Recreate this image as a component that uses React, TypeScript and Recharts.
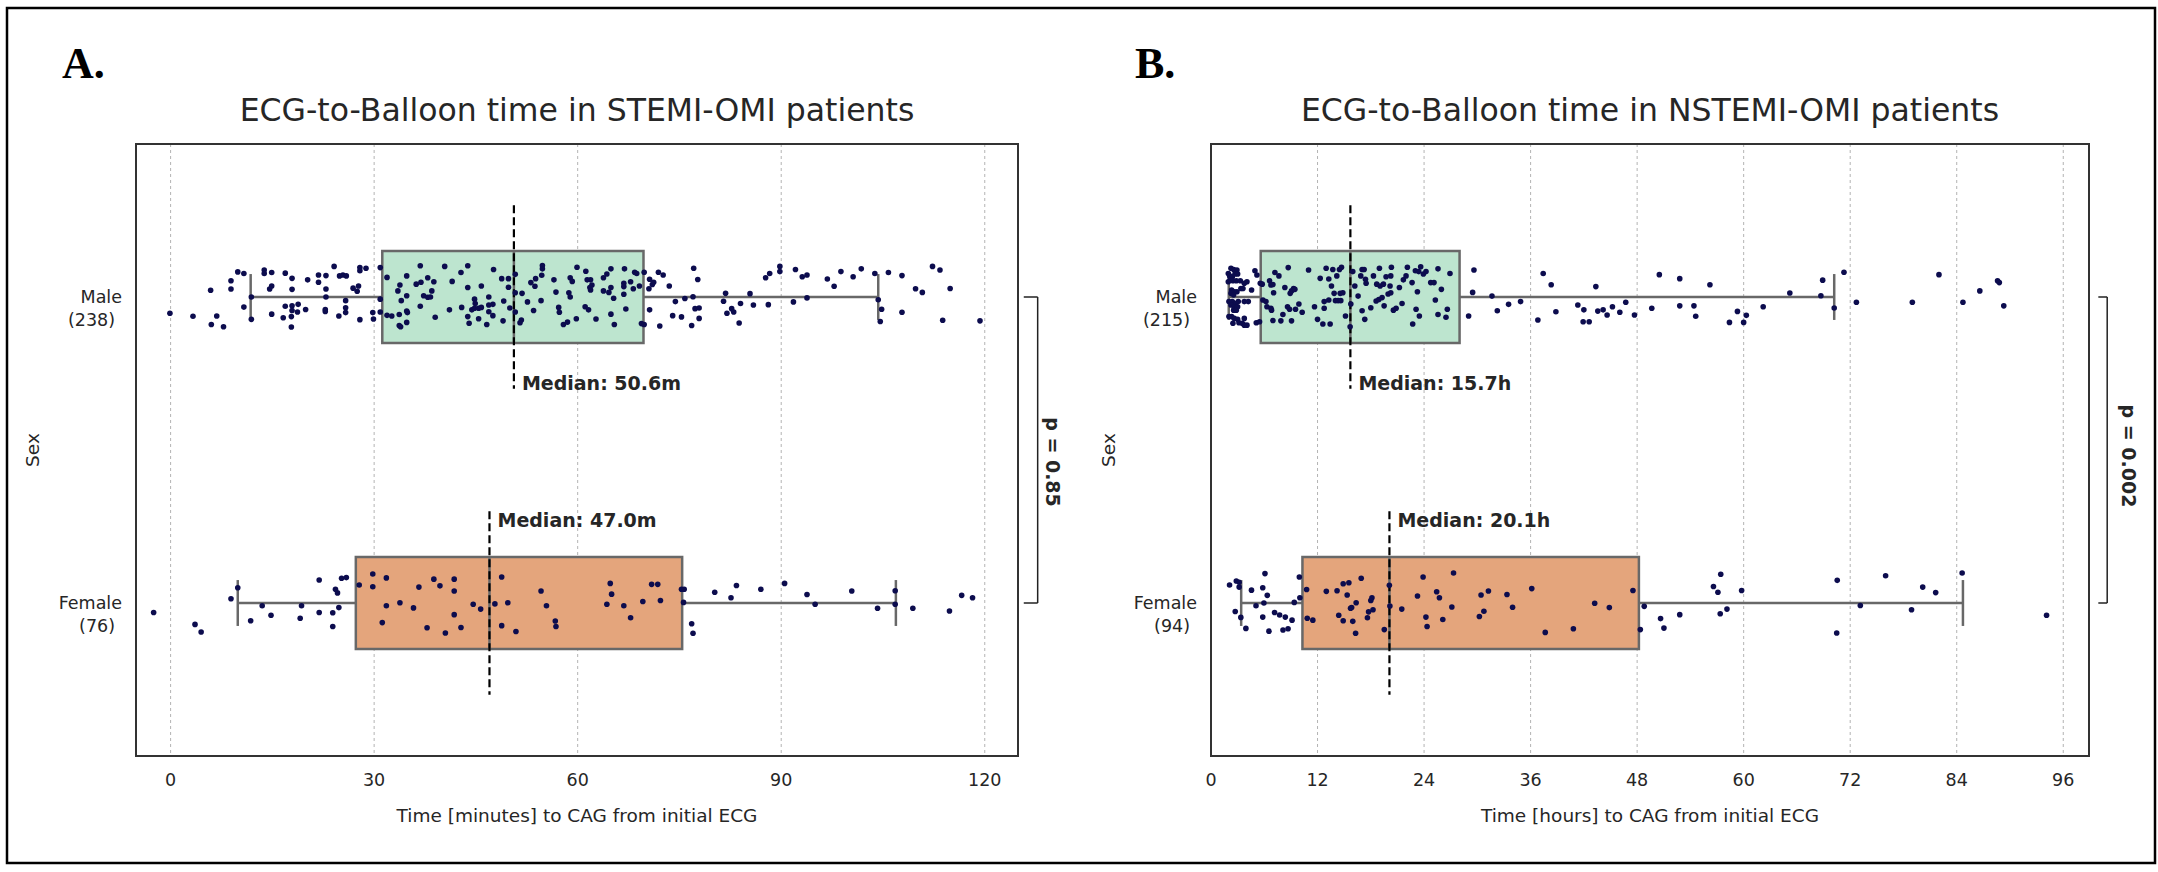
import React from 'react';
import { ScatterChart, Scatter, XAxis, YAxis, CartesianGrid, ReferenceArea, ReferenceLine } from 'recharts';

type Pt = [number, number]; // [time, vertical jitter]

const sexLabels = ['Male', 'Female'];
const stemiCounts = ['(238)', '(76)'];
const nstemiCounts = ['(215)', '(94)'];

const stemiTicks = [0, 30, 60, 90, 120];
const nstemiTicks = [0, 12, 24, 36, 48, 60, 72, 84, 96];

// [lower whisker, q1, median, q3, upper whisker]
const stemiMaleBox = [11.8, 31.2, 50.6, 69.7, 104.3];
const stemiFemaleBox = [9.9, 27.3, 47.0, 75.4, 106.9];
const nstemiMaleBox = [2.0, 5.6, 15.7, 28.0, 70.2];
const nstemiFemaleBox = [3.4, 10.3, 20.1, 48.2, 84.7];

const stemiMedianText = ['Median: 50.6m', 'Median: 47.0m'];
const nstemiMedianText = ['Median: 15.7h', 'Median: 20.1h'];

const stemiP = 'p = 0.85';
const nstemiP = 'p = 0.002';

const stemiMale: Pt[] = [
  [-0.1, 0.053], [3.3, 0.063], [5.9, -0.022], [6.0, 0.09], [6.8, 0.062], [7.8, 0.097], [8.9, -0.053], [8.9, -0.026],
  [9.9, -0.082], [10.8, -0.077], [10.8, 0.033], [11.9, 0], [11.9, 0.073], [13.8, -0.088], [13.8, -0.077], [14.9, -0.08],
  [14.6, -0.026], [14.9, -0.036], [14.9, 0.056], [16.9, -0.078], [17.9, -0.061], [17.9, -0.025], [16.9, 0.03], [17.9, 0.029],
  [18.8, 0.024], [17.9, 0.044], [18.7, 0.049], [19.9, 0.041], [16.6, 0.068], [17.8, 0.064], [17.8, 0.098], [20.2, -0.056],
  [21.8, -0.072], [22.9, -0.07], [21.8, -0.048], [22.9, -0.026], [22.9, 0], [22.8, 0.041], [22.8, 0.047], [24.1, -0.1],
  [24.9, -0.069], [25.4, -0.072], [25.9, -0.069], [25.8, 0.012], [25.8, 0.035], [25.8, 0.051], [24.8, 0.062], [26.9, -0.029],
  [27.7, -0.036], [27.5, -0.019], [27.9, -0.096], [27.9, -0.086], [28.8, -0.094], [27.9, 0.074], [29.8, 0.051], [29.9, 0.072],
  [30.9, -0.096], [30.9, 0.007], [30.9, 0.049], [31.9, -0.064], [31.9, 0.06], [32.6, 0.062], [33.8, -0.039], [33.5, -0.02],
  [34.8, -0.069], [34.8, -0.004], [34.0, 0.012], [34.8, 0.046], [34.9, 0.051], [33.7, 0.057], [34.8, 0.083], [33.7, 0.093],
  [33.9, 0.097], [36.8, -0.102], [36.2, -0.042], [36.9, -0.048], [37.9, -0.063], [38.8, -0.05], [37.3, -0.004], [37.9, 0.001],
  [38.3, 0], [38.5, -0.02], [36.8, 0.03], [39.0, 0.066], [40.4, -0.1], [41.5, -0.051], [41.1, 0.042], [42.8, -0.08],
  [43.8, -0.102], [43.8, -0.031], [42.9, 0.034], [43.8, 0.064], [44.0, 0.086], [45.8, -0.036], [44.8, 0.007], [44.9, 0.021],
  [44.4, 0.042], [44.8, 0.037], [45.4, 0.037], [45.8, 0.034], [45.4, 0.071], [46.9, 0], [46.9, 0.026], [46.9, 0.048],
  [46.6, 0.09], [47.5, 0.024], [47.5, 0.061], [47.6, -0.09], [48.8, -0.06], [49.1, 0.013], [49.0, 0.078], [49.8, -0.06],
  [49.8, -0.032], [50.0, 0.036], [50.8, -0.074], [50.8, -0.014], [50.8, 0.049], [51.8, -0.012], [51.7, 0.075], [51.5, 0.084],
  [53.1, -0.047], [53.8, -0.06], [53.7, -0.035], [54.6, 0.012], [54.8, -0.103], [54.8, -0.092], [54.7, -0.071], [52.6, 0.016],
  [53.5, 0.044], [56.5, -0.056], [56.8, -0.016], [57.2, 0.034], [57.3, 0.05], [58.9, -0.063], [59.2, -0.051], [58.7, -0.014],
  [58.9, 0], [57.9, 0.09], [58.5, 0.082], [59.9, -0.097], [59.8, 0.071],
  [61.2, -0.084], [61.9, -0.056], [61.4, -0.056], [62.1, -0.039], [61.8, -0.031], [61.9, -0.023], [61.1, 0.032], [61.6, 0.042],
  [62.7, 0.072], [63.8, -0.063], [64.3, -0.075], [64.9, -0.092], [63.8, -0.02], [64.6, -0.015], [64.9, -0.031], [65.3, 0.004],
  [64.9, 0.056], [65.4, 0.09], [66.9, -0.092], [66.8, -0.045], [66.8, -0.034], [66.8, -0.009], [67.8, -0.05], [68.2, -0.027],
  [67.1, 0.039], [68.4, -0.081], [68.7, -0.077], [69.1, -0.036], [69.4, 0.087], [69.8, 0.09], [69.8, -0.081], [70.6, -0.058],
  [70.5, -0.027], [71.0, -0.041], [71.2, -0.048], [71.9, -0.081], [72.6, -0.072], [70.6, 0.042], [72.1, 0.095], [73.5, -0.036],
  [74.4, 0.015], [74.0, 0.061], [75.3, 0.065], [75.8, 0.005], [77.1, -0.094], [77.7, -0.057], [77.0, -0.001], [77.3, 0.038],
  [77.9, 0.036], [77.9, 0.07], [76.8, 0.093], [81.8, -0.012], [81.5, 0.014], [82.0, 0.053], [82.7, 0.038], [83.0, 0.049],
  [83.8, 0.085], [84.0, 0.021], [85.4, -0.011], [85.9, 0.026], [87.7, -0.063], [88.3, -0.077], [88.1, 0.025], [89.8, -0.1],
  [89.8, -0.083], [91.8, 0.016], [92.1, -0.09], [93.1, -0.066], [93.8, -0.072], [93.8, 0.003], [96.8, -0.059], [97.8, -0.035],
  [98.8, -0.083], [100.6, -0.066], [101.8, -0.092], [103.8, -0.077], [104.3, 0.009], [104.8, 0.04], [104.6, 0.08], [105.8, -0.08],
  [107.8, -0.07], [107.8, 0.05], [109.8, -0.027], [110.8, -0.015], [112.3, -0.1], [113.4, -0.088], [114.9, -0.028], [113.8, 0.076],
  [119.3, 0.078],
];

const stemiFemale: Pt[] = [
  [-2.5, 0.031], [3.6, 0.07], [4.5, 0.095], [8.9, -0.014], [9.9, -0.05], [11.8, 0.058], [13.5, 0.009], [14.8, 0.04],
  [19.1, 0.05], [19.3, 0.009], [21.9, -0.075], [21.9, 0.031], [23.9, 0.032], [23.9, 0.077], [24.3, -0.045], [24.6, -0.033],
  [24.8, 0.015], [25.2, -0.081], [25.9, -0.083], [27.8, -0.059], [29.8, -0.095], [29.8, -0.053], [31.2, 0.064], [31.8, -0.082],
  [31.8, 0.009], [33.8, -0.001], [35.8, 0.016], [36.6, -0.052], [37.8, 0.081], [38.8, -0.078], [39.7, -0.056], [40.5, 0.098],
  [41.8, -0.078], [41.8, -0.039], [41.8, 0.038], [42.8, 0.08], [44.6, 0.004], [45.7, 0.02], [47.8, 0.003], [48.8, -0.085],
  [49.7, -0.001], [48.8, 0.074], [50.9, 0.093], [54.6, -0.039], [55.4, 0.009], [56.7, 0.059], [56.8, 0.077], [64.3, 0.004],
  [64.8, -0.064], [65.0, -0.029], [66.8, 0.009], [67.8, 0.048], [69.6, -0.005], [70.9, -0.061], [71.8, -0.061], [72.2, -0.008],
  [75.3, -0.045], [75.7, -0.045], [75.6, -0.002], [76.8, 0.068], [77.0, 0.099], [80.2, -0.035], [82.6, -0.017], [83.4, -0.057],
  [87.0, -0.045], [90.5, -0.064], [93.8, -0.028], [95.0, 0.004], [100.4, -0.039], [104.2, 0.017], [106.8, -0.04], [106.8, 0.004],
  [109.4, 0.017], [114.8, 0.026], [116.6, -0.025], [118.2, -0.017],
];

const nstemiMale: Pt[] = [
  [1.95, -0.077], [2.25, -0.094], [2.55, -0.09], [2.92, -0.088], [2.1, -0.069], [2.4, -0.066], [2.7, -0.075], [3.0, -0.075],
  [1.95, -0.05], [2.17, -0.056], [2.47, -0.053], [2.85, -0.053], [3.3, -0.053], [3.75, -0.045], [4.05, -0.05], [4.95, -0.086],
  [4.57, -0.023], [2.32, -0.023], [2.62, -0.017], [2.92, -0.017], [2.25, -0.012], [2.55, -0.007], [3.37, -0.028], [3.6, -0.028],
  [2.02, 0.015], [2.4, 0.015], [2.77, 0.021], [3.07, 0.015], [3.75, 0.015], [4.2, 0.015], [2.25, 0.026], [2.62, 0.032],
  [3.0, 0.032], [2.55, 0.043], [2.85, 0.043], [2.02, 0.064], [2.32, 0.064], [2.62, 0.07], [3.0, 0.073], [3.75, 0.07],
  [2.47, 0.086], [3.15, 0.084], [3.52, 0.086], [3.75, 0.092], [4.05, 0.092], [5.1, 0.084], [5.47, 0.081], [5.55, -0.045],
  [5.77, -0.042], [5.85, 0.01], [5.17, -0.072],
  [6.19, 0.015], [6.3, 0.032], [6.75, 0.037], [6.82, 0.043], [6.6, -0.053], [6.75, -0.039], [6.97, -0.041], [7.05, -0.014],
  [7.2, -0.08], [7.65, -0.069], [6.97, 0.077], [7.87, 0.078], [8.1, 0.057], [8.32, -0.031], [8.7, -0.096], [8.62, 0.032],
  [8.85, 0.04], [8.92, -0.012], [9.07, -0.02], [9.3, -0.028], [9.45, -0.025], [9.07, 0.078], [9.52, 0.04], [9.9, 0.023],
  [10.27, 0.05], [10.99, -0.088], [11.66, 0.032], [12.0, 0.073], [12.3, -0.061], [12.6, 0.088], [12.75, 0.037], [12.75, 0.015],
  [12.97, -0.094], [13.27, 0.01], [13.27, -0.059], [13.42, 0.088], [13.57, -0.036], [13.72, -0.09], [13.87, -0.012], [14.02, 0.012],
  [14.17, -0.069], [14.32, 0.012], [14.47, -0.09], [14.55, -0.012], [14.62, 0.012], [14.7, -0.097], [14.85, -0.014], [15.15, 0.062],
  [15.67, 0.097], [15.75, 0.023], [15.97, -0.083], [16.2, -0.036], [16.57, -0.003], [16.87, -0.069], [17.02, -0.09], [17.25, -0.09],
  [17.02, 0.045], [17.32, 0.073], [17.4, -0.058], [17.47, -0.045], [18.0, 0.035], [18.3, -0.069], [18.6, 0.013], [18.67, -0.042],
  [18.9, 0.008], [18.97, -0.094], [19.05, -0.036], [19.27, 0.002], [19.42, -0.042], [19.5, 0.029], [19.72, -0.066], [19.95, -0.01],
  [20.17, -0.036], [20.25, -0.069], [20.32, -0.097], [20.25, -0.014], [20.55, 0.043], [20.85, 0.037], [21.22, -0.031], [21.52, 0.021],
  [21.67, -0.056], [21.97, -0.069], [22.12, -0.097], [22.65, -0.047], [22.72, 0.088], [23.02, -0.086], [23.25, -0.017], [23.1, 0.04],
  [23.4, -0.083], [23.47, 0.062], [23.62, -0.099], [23.92, -0.075], [24.22, -0.083], [24.75, -0.047], [25.12, -0.047], [25.27, 0.01],
  [25.57, -0.092], [25.57, 0.057], [25.95, -0.025], [26.47, 0.066], [26.62, 0.04], [26.92, -0.077],
  [29.02, 0.062], [29.47, -0.015], [29.62, -0.088], [31.65, -0.003], [32.25, 0.045], [33.52, 0.024], [34.87, 0.015], [36.82, 0.075],
  [37.42, -0.077], [38.32, -0.04], [38.85, 0.048], [41.32, 0.026], [42.0, 0.042], [41.92, 0.081], [42.6, 0.081], [43.35, -0.034],
  [43.57, 0.046], [44.17, 0.042], [44.62, 0.059], [45.22, 0.032], [46.05, 0.05], [46.72, 0.017], [47.7, 0.059], [49.65, 0.037],
  [50.5, -0.073], [52.8, -0.06], [52.8, 0.029], [54.4, 0.029], [54.6, 0.063], [56.2, -0.04], [58.4, 0.083], [59.3, 0.047],
  [60.0, 0.083], [60.3, 0.06], [62.2, 0.032], [65.2, -0.013], [68.7, -0.004], [68.9, -0.055], [70.2, 0.036], [71.3, -0.081],
  [72.7, 0.017], [79.0, 0.017], [82.0, -0.073], [84.7, 0.017], [86.6, -0.02], [88.6, -0.053], [88.8, -0.047], [89.3, 0.029],
];

const nstemiFemale: Pt[] = [
  [2.09, -0.059], [2.85, -0.072], [3.17, -0.068], [3.17, -0.052], [2.73, 0.028], [3.36, 0.047], [3.93, 0.083], [4.56, -0.042],
  [5.07, 0.009], [5.83, -0.05], [6.08, -0.096], [6.34, -0.025], [5.96, 0], [5.83, 0.046], [6.53, 0.092], [7.16, 0.031],
  [7.73, 0.039], [8.37, 0.046], [9.13, 0.056], [8.11, 0.088], [8.68, 0.084], [9.38, -0.002], [9.95, -0.085], [10.01, -0.017],
  [10.77, -0.044], [10.84, 0.05], [11.47, 0.056], [12.99, -0.038], [14.2, -0.04], [14.89, -0.063], [15.53, -0.066], [15.34, -0.026],
  [16.92, -0.081], [15.84, 0.015], [15.72, 0.017], [16.35, -0.001], [14.39, 0.04], [14.89, 0.058], [15.97, 0.06], [16.29, 0.099],
  [17.75, 0.029], [17.62, 0.048], [18.13, -0.017], [18.0, -0.008], [18.25, 0.022], [19.52, 0.087], [20.09, -0.058], [20.15, 0.01],
  [21.49, 0.02], [23.26, -0.023], [23.89, -0.085], [24.21, 0.046], [24.34, 0.077], [25.42, -0.037], [25.73, -0.017], [26.11, 0.054],
  [27.13, 0.013], [27.32, -0.098], [30.42, -0.026], [31.25, -0.039], [30.74, 0.027], [30.23, 0.044], [33.34, -0.028], [33.97, 0.014],
  [36.13, -0.047], [37.65, 0.096], [40.82, 0.084], [43.22, 0.001], [44.87, 0.015], [47.53, -0.041], [48.36, 0.087], [48.8, 0.011],
  [50.64, 0.051], [51.02, 0.082], [52.8, 0.038], [56.6, -0.054], [57.1, -0.035], [57.42, -0.094], [57.36, 0.035], [58.12, 0.02],
  [59.77, -0.041], [70.48, 0.098], [70.54, -0.074], [73.14, 0.008], [75.99, -0.089], [78.91, 0.022], [80.17, -0.052], [81.63, -0.034],
  [84.61, -0.098], [94.12, 0.04],
];

const TXT = '#262626';
const BOX_EDGE = '#686868';
const boxFills = ['#bde5cf', '#e4a57c'];
const DOT = '#0c0c4e';

const Dot = (p: any) => <circle cx={p.cx} cy={p.cy} r={2.8} fill={DOT} />;

const MedianLabel = (p: any) => (
  <text x={p.cx + 8} y={p.cy} dominantBaseline="central" fontSize={19} fontWeight="bold" fill={TXT}>
    {p.payload.label}
  </text>
);

const XTick = (p: any) => (
  <text x={p.x} y={p.y + 30} textAnchor="middle" fontSize={17.5} fill={TXT}>
    {p.payload.value}
  </text>
);

const YTick = (p: any) => (
  <g>
    <text x={p.x - 14} y={p.y + 6} textAnchor="end" fontSize={17.5} fill={TXT}>
      {sexLabels[p.payload.value]}
    </text>
    <text x={p.x - 21} y={p.y + 29} textAnchor="end" fontSize={17.5} fill={TXT}>
      {p.counts[p.payload.value]}
    </text>
  </g>
);

interface PanelProps {
  left: number;
  width: number;
  yAxisWidth: number;
  marginRight: number;
  domain: [number, number];
  ticks: number[];
  counts: string[];
  boxes: number[][];
  groups: Pt[][];
  medianText: string[];
  bracket: [number, number];
}

function Panel({ left, width, yAxisWidth, marginRight, domain, ticks, counts, boxes, groups, medianText, bracket }: PanelProps) {
  return (
    <div style={{ position: 'absolute', left, top: 0 }}>
      <ScatterChart width={width} height={872} margin={{ top: 144, right: marginRight, bottom: 56, left: 0 }}>
        <CartesianGrid horizontal={false} strokeDasharray="3 3" stroke="#b3b3b3" strokeWidth={1} />
        <XAxis
          type="number"
          dataKey="x"
          domain={domain}
          ticks={ticks}
          interval={0}
          allowDataOverflow
          axisLine={false}
          tickLine={false}
          tickSize={0}
          tickMargin={0}
          height={60}
          tick={XTick}
        />
        <YAxis
          type="number"
          dataKey="y"
          domain={[-0.5, 1.5]}
          ticks={[0, 1]}
          interval={0}
          reversed
          allowDataOverflow
          axisLine={false}
          tickLine={false}
          tickSize={0}
          tickMargin={0}
          width={yAxisWidth}
          tick={(p: any) => <YTick {...p} counts={counts} />}
        />
        {boxes.map((b, gi) => (
          <ReferenceArea
            key={'box' + gi}
            x1={b[1]}
            x2={b[3]}
            y1={gi - 0.15}
            y2={gi + 0.15}
            fill={boxFills[gi]}
            fillOpacity={1}
            stroke={BOX_EDGE}
            strokeWidth={2.5}
            ifOverflow="visible"
          />
        ))}
        {boxes.map((b, gi) => [
          <ReferenceLine key={'wl' + gi} segment={[{ x: b[0], y: gi }, { x: b[1], y: gi }]} stroke={BOX_EDGE} strokeWidth={2.5} ifOverflow="visible" />,
          <ReferenceLine key={'wh' + gi} segment={[{ x: b[3], y: gi }, { x: b[4], y: gi }]} stroke={BOX_EDGE} strokeWidth={2.5} ifOverflow="visible" />,
          <ReferenceLine key={'cl' + gi} segment={[{ x: b[0], y: gi - 0.075 }, { x: b[0], y: gi + 0.075 }]} stroke={BOX_EDGE} strokeWidth={2.5} ifOverflow="visible" />,
          <ReferenceLine key={'ch' + gi} segment={[{ x: b[4], y: gi - 0.075 }, { x: b[4], y: gi + 0.075 }]} stroke={BOX_EDGE} strokeWidth={2.5} ifOverflow="visible" />,
          <ReferenceLine key={'md' + gi} segment={[{ x: b[2], y: gi - 0.15 }, { x: b[2], y: gi + 0.15 }]} stroke={BOX_EDGE} strokeWidth={2.5} ifOverflow="visible" />,
        ])}
        {groups.map((g, gi) => (
          <Scatter
            key={'pts' + gi}
            data={g.map(([x, j]) => ({ x, y: gi + j }))}
            shape={Dot}
            isAnimationActive={false}
          />
        ))}
        {boxes.map((b, gi) => (
          <ReferenceLine
            key={'dash' + gi}
            segment={[{ x: b[2], y: gi - 0.3 }, { x: b[2], y: gi + 0.3 }]}
            stroke="#000"
            strokeWidth={2.2}
            strokeDasharray="8 4"
            ifOverflow="visible"
          />
        ))}
        <Scatter
          data={boxes.map((b, gi) => ({ x: b[2], y: gi === 0 ? 0.28 : 1 - 0.27, label: medianText[gi] }))}
          shape={MedianLabel}
          isAnimationActive={false}
        />
        <ReferenceArea x1={domain[0]} x2={domain[1]} y1={-0.5} y2={1.5} fill="none" stroke="#333" strokeWidth={2} ifOverflow="visible" />
        <ReferenceLine segment={[{ x: bracket[1], y: 0 }, { x: bracket[1], y: 1 }]} stroke="#222" strokeWidth={1.5} ifOverflow="visible" />
        <ReferenceLine segment={[{ x: bracket[0], y: 0 }, { x: bracket[1], y: 0 }]} stroke="#222" strokeWidth={1.5} ifOverflow="visible" />
        <ReferenceLine segment={[{ x: bracket[0], y: 1 }, { x: bracket[1], y: 1 }]} stroke="#222" strokeWidth={1.5} ifOverflow="visible" />
      </ScatterChart>
    </div>
  );
}

export default function App() {
  return (
    <div
      style={{
        position: 'absolute',
        left: 0,
        top: 0,
        width: 2158,
        height: 872,
        background: '#fff',
        fontFamily: '"DejaVu Sans", sans-serif',
        overflow: 'hidden',
      }}
    >
      <Panel
        left={0}
        width={1080}
        yAxisWidth={136}
        marginRight={62}
        domain={[-5.1, 124.9]}
        ticks={stemiTicks}
        counts={stemiCounts}
        boxes={[stemiMaleBox, stemiFemaleBox]}
        groups={[stemiMale, stemiFemale]}
        medianText={stemiMedianText}
        bracket={[125.75, 127.8]}
      />
      <Panel
        left={1080}
        width={1078}
        yAxisWidth={131}
        marginRight={69}
        domain={[0, 98.9]}
        ticks={nstemiTicks}
        counts={nstemiCounts}
        boxes={[nstemiMaleBox, nstemiFemaleBox]}
        groups={[nstemiMale, nstemiFemale]}
        medianText={nstemiMedianText}
        bracket={[99.95, 100.95]}
      />
      <svg width={2158} height={872} style={{ position: 'absolute', left: 0, top: 0, pointerEvents: 'none' }}>
        <rect x={7} y={8} width={2148} height={855} fill="none" stroke="#000" strokeWidth={2.5} />
        <text x={62} y={78} fontFamily='"Liberation Serif", serif' fontWeight="bold" fontSize={44} fill="#000">A.</text>
        <text x={1135} y={78} fontFamily='"Liberation Serif", serif' fontWeight="bold" fontSize={44} fill="#000">B.</text>
        <text x={577} y={121} textAnchor="middle" fontSize={31.5} fill={TXT}>ECG-to-Balloon time in STEMI-OMI patients</text>
        <text x={1650} y={121} textAnchor="middle" fontSize={31.5} fill={TXT}>ECG-to-Balloon time in NSTEMI-OMI patients</text>
        <text x={577} y={822} textAnchor="middle" fontSize={18.5} fill={TXT}>Time [minutes] to CAG from initial ECG</text>
        <text x={1650} y={822} textAnchor="middle" fontSize={18.5} fill={TXT}>Time [hours] to CAG from initial ECG</text>
        <text x={32} y={450} textAnchor="middle" dominantBaseline="central" fontSize={18.5} fill={TXT} transform="rotate(-90 32 450)">Sex</text>
        <text x={1108} y={450} textAnchor="middle" dominantBaseline="central" fontSize={18.5} fill={TXT} transform="rotate(-90 1108 450)">Sex</text>
        <text x={1053} y={462} textAnchor="middle" dominantBaseline="central" fontSize={19} fontWeight="bold" fill={TXT} transform="rotate(90 1053 462)">{stemiP}</text>
        <text x={2129} y={456} textAnchor="middle" dominantBaseline="central" fontSize={19} fontWeight="bold" fill={TXT} transform="rotate(90 2129 456)">{nstemiP}</text>
      </svg>
    </div>
  );
}
